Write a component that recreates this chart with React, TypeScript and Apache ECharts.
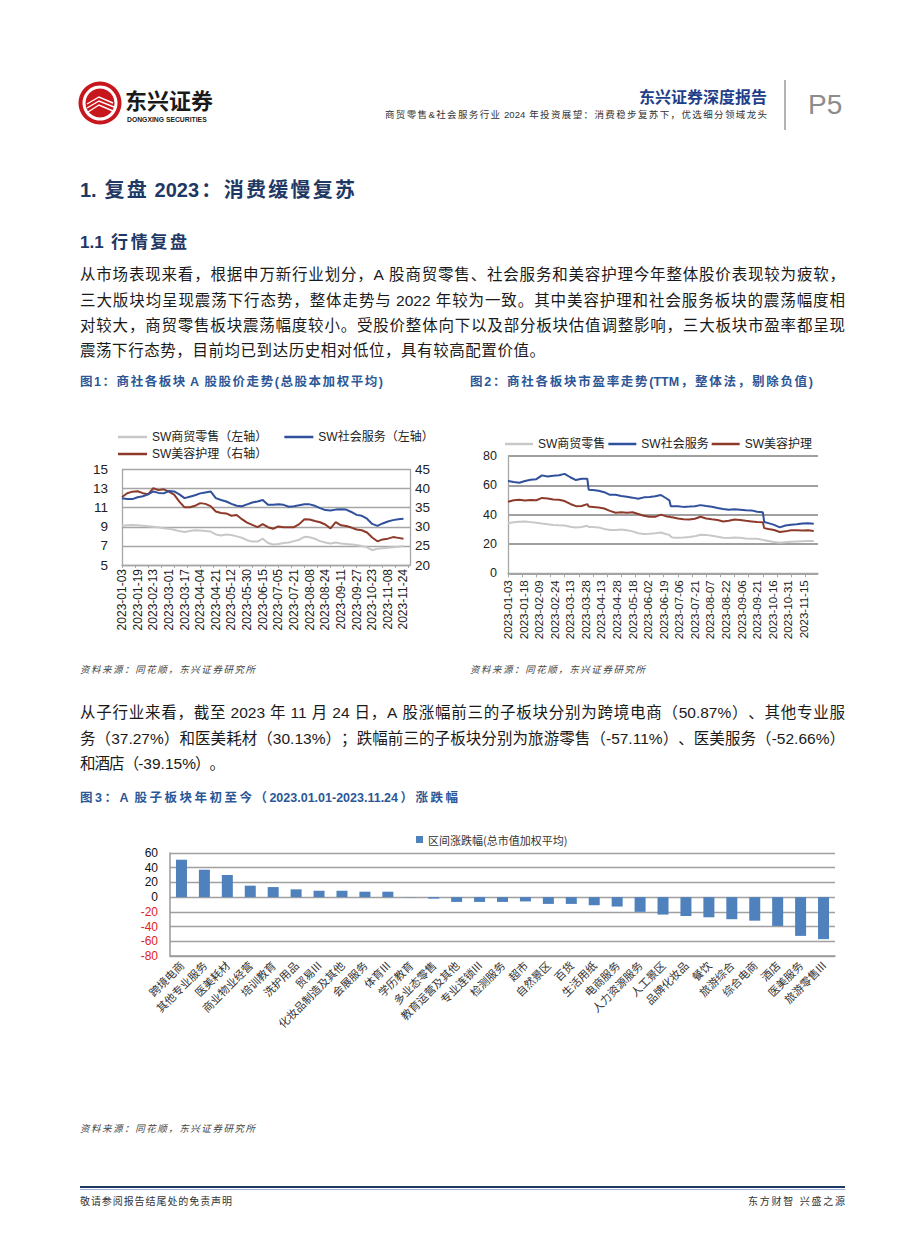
import React, { useEffect, useRef } from "react";
import * as echarts from "echarts";

// ---------- calendar (A-share trading days 2023-01-03 .. 2023-11-24) ----------
const MONTH_DAYS: [number, number[]][] = [
  [1, [3, 4, 5, 6, 9, 10, 11, 12, 13, 16, 17, 18, 19, 20, 30, 31]],
  [2, [1, 2, 3, 6, 7, 8, 9, 10, 13, 14, 15, 16, 17, 20, 21, 22, 23, 24, 27, 28]],
  [3, [1, 2, 3, 6, 7, 8, 9, 10, 13, 14, 15, 16, 17, 20, 21, 22, 23, 24, 27, 28, 29, 30, 31]],
  [4, [3, 4, 6, 7, 10, 11, 12, 13, 14, 17, 18, 19, 20, 21, 24, 25, 26, 27, 28]],
  [5, [4, 5, 8, 9, 10, 11, 12, 15, 16, 17, 18, 19, 22, 23, 24, 25, 26, 29, 30, 31]],
  [6, [1, 2, 5, 6, 7, 8, 9, 12, 13, 14, 15, 16, 19, 20, 21, 26, 27, 28, 29, 30]],
  [7, [3, 4, 5, 6, 7, 10, 11, 12, 13, 14, 17, 18, 19, 20, 21, 24, 25, 26, 27, 28, 31]],
  [8, [1, 2, 3, 4, 7, 8, 9, 10, 11, 14, 15, 16, 17, 18, 21, 22, 23, 24, 25, 28, 29, 30, 31]],
  [9, [1, 4, 5, 6, 7, 8, 11, 12, 13, 14, 15, 18, 19, 20, 21, 22, 25, 26, 27, 28]],
  [10, [9, 10, 11, 12, 13, 16, 17, 18, 19, 20, 23, 24, 25, 26, 27, 30, 31]],
  [11, [1, 2, 3, 6, 7, 8, 9, 10, 13, 14, 15, 16, 17, 20, 21, 22, 23, 24]],
];
const TRADING_DAYS: string[] = MONTH_DAYS.flatMap(([m, ds]) =>
  ds.map((d) => `2023-${String(m).padStart(2, "0")}-${String(d).padStart(2, "0")}`)
);

// ---------- Figure 1: price index (sampled trading-day indices) ----------
const PRICE_IDX = [0, 4, 8, 12, 16, 20, 24, 28, 32, 36, 40, 44, 48, 52, 56, 60, 64, 68, 72, 76, 80, 84, 88, 92, 96, 100, 104, 108, 112, 116, 120, 124, 128, 132, 136, 140, 144, 148, 152, 156, 160, 164, 168, 172, 176, 180, 184, 188, 192, 196, 200, 204, 208, 212, 216];
const PRICE_RETAIL = [9.1, 9.15, 9.2, 9.15, 9.1, 9.05, 9.0, 8.95, 8.85, 8.8, 8.7, 8.55, 8.45, 8.55, 8.65, 8.6, 8.55, 8.5, 8.2, 8.1, 8.2, 8.15, 8.0, 7.85, 7.6, 7.45, 7.45, 7.75, 7.3, 7.15, 7.2, 7.3, 7.35, 7.5, 7.65, 7.95, 7.9, 7.75, 7.5, 7.35, 7.25, 7.35, 7.25, 7.2, 7.15, 7.1, 7.0, 6.85, 6.55, 6.7, 6.75, 6.8, 6.85, 6.9, 7.0];
const PRICE_SOCIAL = [12.0, 11.9, 11.9, 12.1, 12.2, 12.4, 12.7, 12.55, 12.5, 12.75, 12.7, 12.4, 12.0, 12.15, 12.3, 12.5, 12.6, 12.7, 12.0, 11.8, 11.65, 11.4, 11.2, 11.15, 11.35, 11.55, 11.65, 11.8, 11.3, 11.3, 11.35, 11.3, 11.1, 11.15, 11.25, 11.35, 11.35, 11.2, 10.95, 10.75, 10.7, 10.8, 10.85, 10.8, 10.55, 10.25, 10.15, 9.85, 9.3, 9.1, 9.35, 9.55, 9.7, 9.8, 9.85];
const PRICE_BEAUTY = [37.8, 38.8, 39.2, 39.3, 38.8, 38.5, 40.1, 39.6, 39.8, 39.2, 38.4, 36.6, 35.1, 35.1, 35.5, 36.2, 36.0, 35.4, 34.0, 33.6, 33.5, 32.9, 33.1, 32.0, 31.1, 30.5, 29.9, 30.7, 29.9, 29.5, 30.1, 29.9, 29.9, 29.9, 30.7, 32.0, 31.9, 31.5, 31.2, 30.6, 29.6, 31.2, 30.4, 30.2, 29.8, 29.3, 29.1, 28.5, 27.2, 26.2, 26.7, 26.9, 27.3, 27.1, 26.9];

// ---------- Figure 2: PE (TTM) ----------
const PE_IDX = [0, 4, 8, 12, 16, 20, 24, 28, 32, 36, 40, 44, 48, 52, 56, 57, 60, 64, 68, 72, 76, 80, 84, 88, 92, 96, 100, 104, 108, 112, 114, 115, 116, 120, 124, 128, 132, 136, 140, 144, 148, 152, 156, 160, 164, 168, 172, 176, 180, 181, 184, 188, 192, 196, 200, 204, 208, 212, 216];
const PE_RETAIL = [34.2, 34.8, 35.2, 35.3, 34.9, 34.4, 33.9, 33.5, 32.9, 32.7, 32.6, 31.8, 31.2, 31.6, 32.4, 31.6, 31.6, 31.3, 30.2, 29.5, 29.6, 29.8, 29.3, 28.6, 27.3, 26.8, 26.9, 27.3, 27.8, 26.6, 26.2, 25.0, 24.5, 24.3, 24.4, 24.7, 25.3, 26.3, 26.2, 25.6, 25.0, 24.3, 24.0, 24.4, 24.2, 23.8, 23.6, 23.5, 22.8, 22.5, 22.0, 21.3, 20.9, 21.2, 21.5, 21.7, 21.9, 22.0, 22.1];
const PE_SOCIAL = [63.0, 62.3, 61.8, 63.0, 63.8, 64.2, 66.8, 66.0, 66.5, 66.9, 67.8, 65.5, 63.6, 64.5, 64.5, 57.0, 56.8, 56.3, 55.3, 53.5, 53.6, 52.7, 52.2, 51.6, 50.8, 51.8, 52.0, 52.5, 53.4, 51.0, 49.8, 45.8, 45.8, 45.7, 45.3, 45.5, 45.8, 46.5, 45.9, 45.4, 44.6, 43.9, 43.3, 43.6, 43.3, 43.0, 42.9, 42.0, 41.7, 35.0, 34.2, 33.0, 31.3, 32.6, 33.1, 33.4, 33.9, 34.2, 33.8];
const PE_BEAUTY = [48.8, 49.8, 50.2, 49.6, 50.0, 49.8, 51.4, 51.0, 50.3, 50.2, 49.3, 47.3, 45.8, 45.9, 47.2, 45.5, 45.2, 44.8, 44.2, 42.6, 41.3, 41.6, 41.3, 41.6, 40.4, 39.2, 38.6, 38.5, 40.0, 38.8, 38.6, 38.3, 38.2, 37.4, 36.9, 36.7, 37.2, 38.6, 37.4, 36.8, 36.3, 35.3, 35.8, 36.7, 36.3, 35.8, 35.4, 35.0, 34.9, 30.8, 30.2, 29.5, 28.2, 28.6, 29.3, 29.3, 29.2, 29.3, 28.9];

// ---------- Figure 3: sub-sector YTD change ----------
const SUB_CATS = ["跨境电商", "其他专业服务", "医美耗材", "商业物业经营", "培训教育", "洗护用品", "贸易III", "化妆品制造及其他", "会展服务", "体育III", "学历教育", "多业态零售", "教育运营及其他", "专业连锁III", "检测服务", "超市", "自然景区", "百货", "生活用纸", "电商服务", "人力资源服务", "人工景区", "品牌化妆品", "餐饮", "旅游综合", "综合电商", "酒店", "医美服务", "旅游零售III"];
const SUB_CHANGE = [50.87, 37.27, 30.13, 15.6, 13.7, 10.6, 8.7, 8.7, 7.4, 7.4, -0.3, -2.0, -6.5, -6.5, -6.5, -5.8, -9.2, -9.2, -11.0, -12.8, -20.0, -23.7, -25.6, -27.4, -30.0, -32.0, -39.15, -52.66, -57.11];

// ---------- styling helpers ----------
const CJK = '"Noto Sans CJK SC", sans-serif';
const MIX = '"Liberation Sans", "Noto Sans CJK SC", sans-serif';
const LAT = '"Liberation Sans", Arial, sans-serif';
const NAVY = "#1F3864";
const FIGBLUE = "#2B5797";
const AX = "#A6A6A6";

let _ctx: CanvasRenderingContext2D | null = null;
function measure(t: string, font: string): number {
  if (!_ctx) _ctx = document.createElement("canvas").getContext("2d");
  _ctx!.font = font;
  return _ctx!.measureText(t).width;
}
type TOpt = { size: number; family?: string; weight?: string; italic?: boolean; color?: string; width?: number; spacing?: number; align?: "left" | "right" };
function textRun(str: string, x: number, y: number, o: TOpt): any[] {
  const family = o.family || MIX;
  const weight = o.weight || "normal";
  const fstyle = o.italic ? "italic" : "normal";
  const font = `${fstyle} ${weight} ${o.size}px ${family}`;
  const toks = str.match(/[\x00-\x7F]+|[^\x00-\x7F]/g) || [];
  const ws = toks.map((t) => measure(t, font));
  const sum = ws.reduce((a, b) => a + b, 0);
  let gap = o.spacing ?? 0;
  if (o.width != null && toks.length > 1) gap = (o.width - sum) / (toks.length - 1);
  const total = sum + gap * (toks.length - 1);
  let cx = o.align === "right" ? x - total : x;
  return toks.map((t, i) => {
    const el = {
      type: "text",
      x: cx,
      y,
      silent: true,
      style: { text: t, fill: o.color || "#1a1a1a", fontSize: o.size, fontFamily: family, fontWeight: weight, fontStyle: fstyle, verticalAlign: "middle", textAlign: "left" },
    };
    cx += ws[i] + gap;
    return el;
  });
}

function buildOption(): any {
  const DATES1 = TRADING_DAYS.concat(["_a", "_b", "_c", "_d", "_e"]);
  const DATES2 = TRADING_DAYS.concat(["_a", "_b", "_c"]);
  const hidePad = (v: string) => (v.startsWith("_") ? "" : v);
  const pairs = (idx: number[], vals: number[]) => idx.map((i, k) => [i, vals[k]]);

  const P = { size: 15.5, color: "#1a1a1a" };
  const graphic: any[] = [
    // logo
    { type: "ring", silent: true, shape: { cx: 100, cy: 103, r: 21.5, r0: 17.5 }, style: { fill: "#C8161D" } },
    { type: "circle", silent: true, shape: { cx: 100, cy: 103, r: 14.5 }, style: { fill: "#C8161D" } },
    { type: "polyline", silent: true, shape: { points: [[87, 104], [99, 97], [113, 103]] }, style: { stroke: "#fff", lineWidth: 1.4, fill: null } },
    { type: "polyline", silent: true, shape: { points: [[87, 108], [99, 101], [114, 107]] }, style: { stroke: "#fff", lineWidth: 1.4, fill: null } },
    { type: "polyline", silent: true, shape: { points: [[88, 112], [99, 105], [113, 111]] }, style: { stroke: "#fff", lineWidth: 1.4, fill: null } },
    { type: "text", silent: true, x: 125, y: 99, style: { text: "东兴证券", fontSize: 22, fontWeight: "bold", fontFamily: CJK, fill: "#1a1a1a", verticalAlign: "middle" } },
    { type: "text", silent: true, x: 127, y: 119, style: { text: "DONGXING SECURITIES", fontSize: 6.8, fontWeight: "bold", fontFamily: LAT, fill: "#1a1a1a", verticalAlign: "middle" } },
    { type: "text", silent: true, x: 767, y: 96, style: { text: "东兴证券深度报告", fontSize: 16, fontWeight: "bold", fontFamily: CJK, fill: "#1F3F8A", textAlign: "right", verticalAlign: "middle" } },
    ...textRun("商贸零售&社会服务行业 2024 年投资展望：消费稳步复苏下，优选细分领域龙头", 767, 114, { size: 9.5, color: "#333", width: 382, align: "right" }),
    { type: "line", silent: true, shape: { x1: 785, y1: 80, x2: 785, y2: 130 }, style: { stroke: "#9a9a9a", lineWidth: 1.5 } },
    { type: "text", silent: true, x: 808, y: 104, style: { text: "P5", fontSize: 28, fontFamily: LAT, fill: "#8c8c8c", verticalAlign: "middle" } },

    ...textRun("1. 复盘 2023：消费缓慢复苏", 80, 190, { size: 20, weight: "bold", color: NAVY, width: 275 }),
    ...textRun("1.1 行情复盘", 80, 242, { size: 17, weight: "bold", color: NAVY, width: 107 }),
    ...textRun("从市场表现来看，根据申万新行业划分，A 股商贸零售、社会服务和美容护理今年整体股价表现较为疲软，", 80, 274, { ...P, width: 765 }),
    ...textRun("三大版块均呈现震荡下行态势，整体走势与 2022 年较为一致。其中美容护理和社会服务板块的震荡幅度相", 80, 300, { ...P, width: 765 }),
    ...textRun("对较大，商贸零售板块震荡幅度较小。受股价整体向下以及部分板块估值调整影响，三大板块市盈率都呈现", 80, 325, { ...P, width: 765 }),
    ...textRun("震荡下行态势，目前均已到达历史相对低位，具有较高配置价值。", 80, 350, { ...P, width: 465 }),

    ...textRun("图1：商社各板块 A 股股价走势(总股本加权平均)", 80, 382, { size: 12.5, weight: "bold", color: FIGBLUE, width: 303 }),
    ...textRun("图2：商社各板块市盈率走势(TTM，整体法，剔除负值)", 470, 382, { size: 12.5, weight: "bold", color: FIGBLUE, width: 343 }),
    ...textRun("资料来源：同花顺，东兴证券研究所", 80, 669, { size: 9.5, italic: true, color: "#444", width: 175 }),
    ...textRun("资料来源：同花顺，东兴证券研究所", 470, 669, { size: 9.5, italic: true, color: "#444", width: 175 }),

    ...textRun("从子行业来看，截至 2023 年 11 月 24 日，A 股涨幅前三的子板块分别为跨境电商（50.87%）、其他专业服", 80, 712, { ...P, width: 765 }),
    ...textRun("务（37.27%）和医美耗材（30.13%）；跌幅前三的子板块分别为旅游零售（-57.11%）、医美服务（-52.66%）", 80, 738, { ...P, width: 765 }),
    ...textRun("和酒店（-39.15%）。", 80, 763, { ...P, width: 145 }),

    ...textRun("图3：A 股子板块年初至今（2023.01.01-2023.11.24）涨跌幅", 80, 798, { size: 12.5, weight: "bold", color: FIGBLUE, width: 378 }),
    ...textRun("资料来源：同花顺，东兴证券研究所", 80, 1128, { size: 9.5, italic: true, color: "#444", width: 175 }),

    { type: "line", silent: true, shape: { x1: 80, y1: 1187, x2: 845, y2: 1187 }, style: { stroke: "#1F3864", lineWidth: 2 } },
    { type: "line", silent: true, shape: { x1: 80, y1: 1189.5, x2: 845, y2: 1189.5 }, style: { stroke: "#9DB3D6", lineWidth: 1 } },
    ...textRun("敬请参阅报告结尾处的免责声明", 80, 1201, { size: 10, color: "#333", width: 152 }),
    ...textRun("东方财智 兴盛之源", 845, 1201, { size: 10, color: "#333", width: 97, align: "right" }),
  ];

  const lineSeries = (name: string, xi: number, yi: number, idx: number[], vals: number[], color: string) => ({
    name,
    type: "line",
    xAxisIndex: xi,
    yAxisIndex: yi,
    data: pairs(idx, vals),
    symbol: "none",
    lineStyle: { width: 2, color },
    itemStyle: { color },
  });

  return {
    animation: false,
    backgroundColor: "#ffffff",
    textStyle: { fontFamily: MIX },
    legend: [
      { left: 118, top: 431, padding: 0, icon: "rect", itemWidth: 29, itemHeight: 2.5, itemGap: 17, data: ["SW商贸零售（左轴）", "SW社会服务（左轴）"], textStyle: { fontSize: 12, color: "#222", fontFamily: MIX } },
      { left: 118, top: 448, padding: 0, icon: "rect", itemWidth: 29, itemHeight: 2.5, data: ["SW美容护理（右轴）"], textStyle: { fontSize: 12, color: "#222", fontFamily: MIX } },
      { left: 505, top: 438, padding: 0, icon: "rect", itemWidth: 28, itemHeight: 2.5, itemGap: 3, data: ["SW商贸零售", "SW社会服务", "SW美容护理"], textStyle: { fontSize: 12, color: "#222", fontFamily: MIX } },
      { left: 416, top: 834, padding: 0, icon: "rect", itemWidth: 7, itemHeight: 7, data: ["区间涨跌幅(总市值加权平均)"], textStyle: { fontSize: 11, color: "#333", fontFamily: CJK } },
    ],
    grid: [
      { left: 122, top: 469.5, width: 288, height: 95.5 },
      { left: 508, top: 456, width: 310, height: 117.3 },
      { left: 170, top: 853, width: 665, height: 103 },
    ],
    xAxis: [
      {
        type: "category", gridIndex: 0, data: DATES1, boundaryGap: false,
        axisLine: { lineStyle: { color: AX, width: 1.3 } },
        axisTick: { show: true, interval: 9, length: 3, lineStyle: { color: AX } },
        axisLabel: { rotate: 90, interval: 11, fontSize: 12, color: "#222", margin: 4, fontFamily: LAT, formatter: hidePad },
        splitLine: { show: false },
      },
      {
        type: "category", gridIndex: 1, data: DATES2, boundaryGap: false,
        axisLine: { lineStyle: { color: AX, width: 1.3 } },
        axisTick: { show: true, interval: 9, length: 4, lineStyle: { color: AX } },
        axisLabel: { rotate: 90, interval: 10, fontSize: 11.5, color: "#222", margin: 7, fontFamily: LAT, formatter: hidePad },
        splitLine: { show: false },
      },
      {
        type: "category", gridIndex: 2, data: SUB_CATS,
        axisLine: { onZero: false, lineStyle: { color: "#9a9a9a", width: 1.5 } },
        axisTick: { show: false },
        axisLabel: { rotate: 45, interval: 0, fontSize: 11, color: "#333", margin: 7, fontFamily: CJK },
      },
    ],
    yAxis: [
      {
        type: "value", gridIndex: 0, min: 5, max: 15, interval: 2,
        axisLine: { show: true, lineStyle: { color: AX, width: 1.3 } },
        axisTick: { show: false },
        splitLine: { lineStyle: { color: AX, width: 1.3 } },
        axisLabel: { fontSize: 13.5, color: "#222", margin: 14, fontFamily: LAT },
      },
      {
        type: "value", gridIndex: 0, position: "right", min: 20, max: 45, interval: 5,
        axisLine: { show: true, lineStyle: { color: AX, width: 1.3 } },
        axisTick: { show: false },
        splitLine: { show: false },
        axisLabel: { fontSize: 13.5, color: "#222", margin: 5, fontFamily: LAT },
      },
      {
        type: "value", gridIndex: 1, min: 0, max: 80, interval: 20,
        axisLine: { show: true, lineStyle: { color: AX, width: 1.3 } },
        axisTick: { show: false },
        splitLine: { lineStyle: { color: "#A0A0A0", width: 1.8 } },
        axisLabel: { fontSize: 12.5, color: "#222", margin: 11, fontFamily: LAT },
      },
      {
        type: "value", gridIndex: 2, min: -80, max: 60, interval: 20,
        axisLine: { show: true, lineStyle: { color: "#9a9a9a", width: 1.5 } },
        axisTick: { show: false },
        splitLine: { lineStyle: { color: "#A0A0A0", width: 1.3 } },
        axisLabel: { fontSize: 12, margin: 12, fontFamily: LAT, color: (v: any) => (Number(v) < 0 ? "#E0231B" : "#111") },
      },
    ],
    series: [
      lineSeries("SW商贸零售（左轴）", 0, 0, PRICE_IDX, PRICE_RETAIL, "#C8C8C8"),
      lineSeries("SW美容护理（右轴）", 0, 1, PRICE_IDX, PRICE_BEAUTY, "#8E3A2B"),
      lineSeries("SW社会服务（左轴）", 0, 0, PRICE_IDX, PRICE_SOCIAL, "#30509C"),
      lineSeries("SW商贸零售", 1, 2, PE_IDX, PE_RETAIL, "#C8C8C8"),
      lineSeries("SW社会服务", 1, 2, PE_IDX, PE_SOCIAL, "#30509C"),
      lineSeries("SW美容护理", 1, 2, PE_IDX, PE_BEAUTY, "#8E3A2B"),
      {
        name: "区间涨跌幅(总市值加权平均)", type: "bar", xAxisIndex: 2, yAxisIndex: 3,
        data: SUB_CHANGE, barWidth: 11, itemStyle: { color: "#4F81BD" },
      },
    ],
    graphic,
  };
}

export default function App() {
  const ref = useRef<HTMLDivElement>(null);
  useEffect(() => {
    document.body.style.margin = "0";
    const chart = echarts.init(ref.current!, null, { renderer: "svg" });
    chart.setOption(buildOption());
    return () => chart.dispose();
  }, []);
  return <div ref={ref} style={{ width: 920, height: 1248, background: "#fff" }} />;
}
